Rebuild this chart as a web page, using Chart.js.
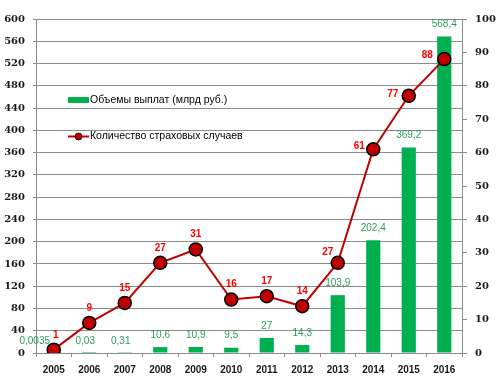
<!DOCTYPE html>
<html>
<head>
<meta charset="utf-8">
<script src="https://cdn.jsdelivr.net/npm/chart.js@4/dist/chart.umd.min.js"></script>
<style>
html,body{margin:0;padding:0;background:#fff;}
#wrap{width:500px;height:389px;position:relative;}
</style>
</head>
<body>
<div id="wrap"><canvas id="c" width="500" height="389"></canvas></div>
<script>
const years = ['2005','2006','2007','2008','2009','2010','2011','2012','2013','2014','2015','2016'];
const payouts = [0.0035, 0.03, 0.31, 10.6, 10.9, 9.5, 27, 14.3, 103.9, 202.4, 369.2, 568.4];
const payoutLabels = ['0,0035','0,03','0,31','10,6','10,9','9,5','27','14,3','103,9','202,4','369,2','568,4'];
const cases = [1, 9, 15, 27, 31, 16, 17, 14, 27, 61, 77, 88];
const leftTicks = [0,40,80,120,160,200,240,280,320,360,400,440,480,520,560,600];
const rightTicks = [0,10,20,30,40,50,60,70,80,90,100];
const legendPayouts = 'Объемы выплат (млрд руб.)';
const legendCases = 'Количество страховых случаев';

const GREEN = '#00b050';
const GREEN_TXT = '#2e9a5a';
const DARKRED = '#c00000';
const RED_TXT = '#ff0000';
const GRID = '#8c8c8c';

const labelsPlugin = {
  id: 'labels',
  afterDatasetsDraw(chart) {
    const ctx = chart.ctx;
    ctx.save();
    const bm = chart.getDatasetMeta(1);
    ctx.font = '10px "Liberation Sans", Arial, sans-serif';
    ctx.fillStyle = GREEN_TXT;
    ctx.textAlign = 'center';
    ctx.textBaseline = 'middle';
    bm.data.forEach((el, i) => {
      let dx = (i === 0) ? -19 : (i < 3 ? -4 : 0);
      ctx.fillText(payoutLabels[i], el.x + dx, el.y - 12);
    });
    const lm = chart.getDatasetMeta(0);
    ctx.font = 'bold 10px "Liberation Sans", Arial, sans-serif';
    ctx.fillStyle = RED_TXT;
    const shift = {0:[2,-14], 8:[-10,-11], 9:[-14,-3], 10:[-16,-2], 11:[-17,-4]};
    lm.data.forEach((el, i) => {
      const s = shift[i] || [0,-15];
      ctx.fillText(String(cases[i]), el.x + s[0], el.y + s[1]);
    });
    ctx.restore();
  },
  afterDraw(chart) {
    const ctx = chart.ctx;
    ctx.save();
    ctx.fillStyle = GREEN;
    ctx.fillRect(68, 97, 21, 6);
    ctx.strokeStyle = DARKRED;
    ctx.lineWidth = 2;
    ctx.beginPath();
    ctx.moveTo(68, 136.5);
    ctx.lineTo(89, 136.5);
    ctx.stroke();
    ctx.beginPath();
    ctx.arc(78.5, 136.5, 3.5, 0, Math.PI * 2);
    ctx.fillStyle = DARKRED;
    ctx.fill();
    ctx.lineWidth = 0.8;
    ctx.strokeStyle = '#000';
    ctx.stroke();
    ctx.fillStyle = '#000';
    ctx.font = '10.5px "Liberation Sans", Arial, sans-serif';
    ctx.textAlign = 'left';
    ctx.textBaseline = 'middle';
    ctx.fillText(legendPayouts, 90, 100);
    ctx.fillText(legendCases, 90, 136);
    ctx.restore();
  }
};

new Chart(document.getElementById('c'), {
  type: 'bar',
  data: {
    labels: years,
    datasets: [
      {
        type: 'line',
        label: legendCases,
        data: cases,
        yAxisID: 'y1',
        borderColor: DARKRED,
        borderWidth: 2,
        pointRadius: 6.5,
        pointBackgroundColor: DARKRED,
        pointBorderColor: '#000',
        pointBorderWidth: 1.5,
        tension: 0,
        order: 0
      },
      {
        type: 'bar',
        label: legendPayouts,
        data: payouts,
        yAxisID: 'y',
        backgroundColor: GREEN,
        barPercentage: 0.4,
        categoryPercentage: 1,
        order: 1
      }
    ]
  },
  options: {
    responsive: false,
    animation: false,
    devicePixelRatio: 1,
    layout: { padding: { top: 19, left: 0, right: 0, bottom: 0 } },
    plugins: { legend: { display: false }, tooltip: { enabled: false } },
    scales: {
      x: {
        grid: { drawOnChartArea: false, drawTicks: true, tickLength: 4, color: GRID, offset: true },
        border: { display: true, color: GRID, width: 1 },
        ticks: { color: '#1a1a1a', font: { family: '"Liberation Sans", Arial, sans-serif', size: 10, weight: 'bold' }, padding: 7, maxRotation: 0, autoSkip: false },
        afterFit(s) { s.height = 36; }
      },
      y: {
        position: 'left',
        min: 0, max: 600,
        afterBuildTicks(s) { s.ticks = leftTicks.map(v => ({ value: v })); },
        grid: { color: GRID, tickLength: 3, lineWidth: 1 },
        border: { display: true, color: GRID },
        ticks: { color: '#1a1a1a', font: { family: '"DejaVu Serif", serif', size: 10, weight: 'bold' }, padding: 8 },
        afterFit(s) { s.width = 36; }
      },
      y1: {
        position: 'right',
        min: 0, max: 100,
        afterBuildTicks(s) { s.ticks = rightTicks.map(v => ({ value: v })); },
        grid: { drawOnChartArea: false, color: GRID, tickLength: 5 },
        border: { display: true, color: GRID },
        ticks: { color: '#1a1a1a', font: { family: '"DejaVu Serif", serif', size: 10, weight: 'bold' }, padding: 8 },
        afterFit(s) { s.width = 38; }
      }
    }
  },
  plugins: [labelsPlugin]
});
</script>
</body>
</html>
